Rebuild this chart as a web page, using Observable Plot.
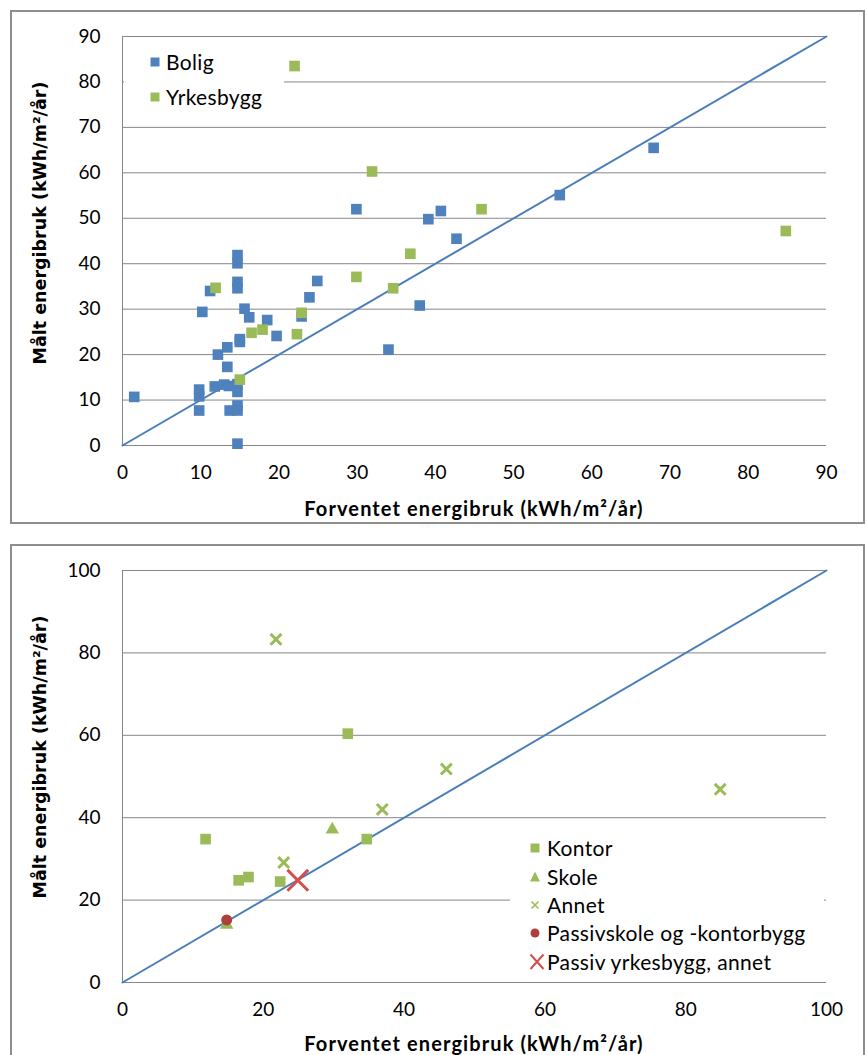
<!DOCTYPE html>
<html><head><meta charset="utf-8">
<script src="https://cdn.jsdelivr.net/npm/d3@7"></script>
<script src="https://cdn.jsdelivr.net/npm/@observablehq/plot@0.6"></script>
<style>
body{margin:0;background:#fff;width:867px;height:1055px;overflow:hidden;position:relative;font-family:Lato,sans-serif;color:#000}
.panel{position:absolute;left:0;width:867px}
.frame{position:absolute;border:2px solid #8e8e8e;box-sizing:border-box;pointer-events:none}
.ytitle{position:absolute;font-family:"DejaVu Sans";font-weight:bold;font-size:17.5px;transform:translate(-50%,-50%) rotate(-90deg);white-space:nowrap}
.xtitle{position:absolute;font-family:Lato;font-weight:bold;font-size:20px;letter-spacing:1.1px;transform:translate(-50%,-50%);white-space:nowrap}
.legend{position:absolute;background:#fff}
.row{position:absolute;white-space:nowrap;font-size:21px;letter-spacing:0.35px;line-height:24px;height:24px}
.row svg{position:absolute;top:0}
</style>
</head><body>
<div id="p1" class="panel" style="top:0"></div>
<div id="p2" class="panel" style="top:530px"></div>
<script>
// ---------- data: top chart ----------
const topTicks = [0, 10, 20, 30, 40, 50, 60, 70, 80, 90];
const boligX = [1.5, 9.8, 9.8, 9.8, 10.2, 11.2, 12.2, 11.8, 13.0, 13.4, 13.4, 13.6, 13.7, 14.7, 14.7, 14.7, 14.7, 15.0, 15.0, 14.7, 14.7, 14.7, 14.7, 14.7, 15.6, 16.2, 18.5, 19.7, 22.9, 23.9, 24.9, 29.9, 34.0, 38.0, 39.1, 40.7, 42.7, 55.9, 67.9];
const boligY = [10.7, 12.3, 10.8, 7.7, 29.4, 34.0, 20.0, 13.0, 13.4, 21.6, 17.3, 13.1, 7.7, 41.9, 40.1, 36.0, 34.6, 22.8, 23.4, 13.5, 11.8, 8.8, 7.7, 0.4, 30.1, 28.2, 27.6, 24.1, 28.4, 32.6, 36.2, 52.0, 21.1, 30.8, 49.8, 51.6, 45.5, 55.1, 65.5];
const yrkX = [22.0, 31.9, 45.9, 84.8, 36.8, 29.9, 34.6, 11.9, 22.9, 16.5, 17.9, 22.3, 15.0];
const yrkY = [83.5, 60.3, 52.0, 47.2, 42.2, 37.1, 34.6, 34.7, 29.2, 24.8, 25.5, 24.5, 14.5];
const topDiag = [0, 90];

// ---------- data: bottom chart ----------
const botTicks = [0, 20, 40, 60, 80, 100];
const kontorX = [32.0, 11.8, 34.7, 16.5, 17.9, 22.4];
const kontorY = [60.4, 34.8, 34.8, 24.8, 25.6, 24.5];
const skoleX = [29.8, 14.8];
const skoleY = [37.1, 14.0];
const annetX = [21.8, 46.0, 84.9, 36.9, 22.9];
const annetY = [83.3, 51.8, 46.9, 42.0, 29.1];
const passivSkoleX = [14.8];
const passivSkoleY = [15.2];
const passivYrkX = [24.9];
const passivYrkY = [24.8];
const botDiag = [0, 100];

const BLUE = "#4F81BD", GREEN = "#9BBB59", DARKRED = "#AE3F3A", RED = "#D0504D", LINE = "#4A7EBB", GRID = "#868686";
const pts = (xs, ys) => xs.map((x, i) => ({x, y: ys[i]}));

function axes(ticks, dom) {
  return [
    Plot.gridY(ticks, {stroke: GRID, strokeOpacity: 1, strokeWidth: 1}),
    Plot.ruleX([dom[0]], {stroke: GRID, strokeWidth: 1}),
    Plot.axisX(ticks, {tickSize: 0, tickPadding: 20, fontSize: 19, label: null}),
    Plot.axisY(ticks, {tickSize: 0, tickPadding: 22, fontSize: 19, label: null})
  ];
}

const topPlot = Plot.plot({
  width: 867, height: 530,
  marginLeft: 122, marginRight: 41, marginTop: 36, marginBottom: 85,
  style: {fontFamily: "Lato", background: "transparent", color: "#000"},
  x: {domain: [0, 90]}, y: {domain: [0, 90]},
  marks: [
    ...axes(topTicks, [0, 90]),
    Plot.line(topDiag.map(v => [v, v]), {stroke: LINE, strokeWidth: 2}),
    Plot.dot(pts(boligX, boligY), {x: "x", y: "y", symbol: "square", r: 6, fill: BLUE}),
    Plot.dot(pts(yrkX, yrkY), {x: "x", y: "y", symbol: "square", r: 6, fill: GREEN})
  ]
});
document.getElementById("p1").appendChild(topPlot);

const botPlot = Plot.plot({
  width: 867, height: 525,
  marginLeft: 122, marginRight: 41, marginTop: 40, marginBottom: 73,
  style: {fontFamily: "Lato", background: "transparent", color: "#000"},
  x: {domain: [0, 100]}, y: {domain: [0, 100]},
  marks: [
    ...axes(botTicks, [0, 100]),
    Plot.line(botDiag.map(v => [v, v]), {stroke: LINE, strokeWidth: 2}),
    Plot.dot(pts(kontorX, kontorY), {x: "x", y: "y", symbol: "square", r: 6, fill: GREEN}),
    Plot.dot(pts(skoleX, skoleY), {x: "x", y: "y", symbol: "triangle", r: 5, fill: GREEN}),
    Plot.dot(pts(annetX, annetY), {x: "x", y: "y", symbol: "times", r: 5, stroke: GREEN, strokeWidth: 3}),
    Plot.dot(pts(passivSkoleX, passivSkoleY), {x: "x", y: "y", symbol: "circle", r: 5.5, fill: DARKRED}),
    Plot.dot(pts(passivYrkX, passivYrkY), {x: "x", y: "y", symbol: "times", r: 9.5, stroke: RED, strokeWidth: 3})
  ]
});
document.getElementById("p2").appendChild(botPlot);

// ---------- frames, titles, legends ----------
function add(html) { document.body.insertAdjacentHTML("beforeend", html); }
add(`<div class="frame" style="left:10px;top:10px;width:855px;height:514px"></div>`);
add(`<div class="frame" style="left:10px;top:544px;width:855px;height:520px"></div>`);
const yTitle = "Målt energibruk (kWh/m²/år)";
const xTitle = "Forventet energibruk (kWh/m²/år)";
add(`<div class="ytitle" style="left:40px;top:223px">${yTitle}</div>`);
add(`<div class="xtitle" style="left:474px;top:508px">${xTitle}</div>`);
add(`<div class="ytitle" style="left:40px;top:757px">${yTitle}</div>`);
add(`<div class="xtitle" style="left:474px;top:1043px">${xTitle}</div>`);

const markers = {
  sq: c => `<svg width="12" height="24"><rect x="1.5" y="7.5" width="9" height="9" fill="${c}"/></svg>`,
  tri: c => `<svg width="12" height="24"><path d="M6,6.5 L11,16.5 L1,16.5Z" fill="${c}"/></svg>`,
  x: c => `<svg width="12" height="24"><path d="M2.5,8.5 L9.5,15.5 M9.5,8.5 L2.5,15.5" stroke="${c}" stroke-width="1.6"/></svg>`,
  dot: c => `<svg width="12" height="24"><circle cx="6" cy="12" r="4.5" fill="${c}"/></svg>`,
  bigx: c => `<svg width="16" height="24"><path d="M1.5,4.5 L14.5,19 M14.5,4.5 L1.5,19" stroke="${c}" stroke-width="2"/></svg>`
};
function legend(box, items) {
  let h = `<div class="legend" style="left:${box[0]}px;top:${box[1]}px;width:${box[2]}px;height:${box[3]}px">`;
  items.forEach(it => {
    h += `<div class="row" style="left:${it.mx - box[0] - 6}px;top:${it.cy - box[1] - 12}px">` +
      `<span style="position:absolute;left:0;top:0">${markers[it.m](it.c)}</span>` +
      `<span style="position:absolute;left:${it.tx - it.mx + 6}px;top:0">${it.label}</span></div>`;
  });
  add(h + `</div>`);
}
const topLegendLabels = ["Bolig", "Yrkesbygg"];
legend([124, 44, 160, 72], [
  {m: "sq", c: BLUE, label: topLegendLabels[0], mx: 155, cy: 62, tx: 166},
  {m: "sq", c: GREEN, label: topLegendLabels[1], mx: 155, cy: 97, tx: 166}
]);
const botLegendLabels = ["Kontor", "Skole", "Annet", "Passivskole og -kontorbygg", "Passiv yrkesbygg, annet"];
legend([510, 828, 314, 148], [
  {m: "sq", c: GREEN, label: botLegendLabels[0], mx: 535, cy: 848, tx: 547},
  {m: "tri", c: GREEN, label: botLegendLabels[1], mx: 535, cy: 877, tx: 547},
  {m: "x", c: GREEN, label: botLegendLabels[2], mx: 535, cy: 905, tx: 547},
  {m: "dot", c: DARKRED, label: botLegendLabels[3], mx: 535, cy: 933, tx: 547},
  {m: "bigx", c: RED, label: botLegendLabels[4], mx: 535, cy: 962, tx: 547}
]);
</script>
</body></html>
